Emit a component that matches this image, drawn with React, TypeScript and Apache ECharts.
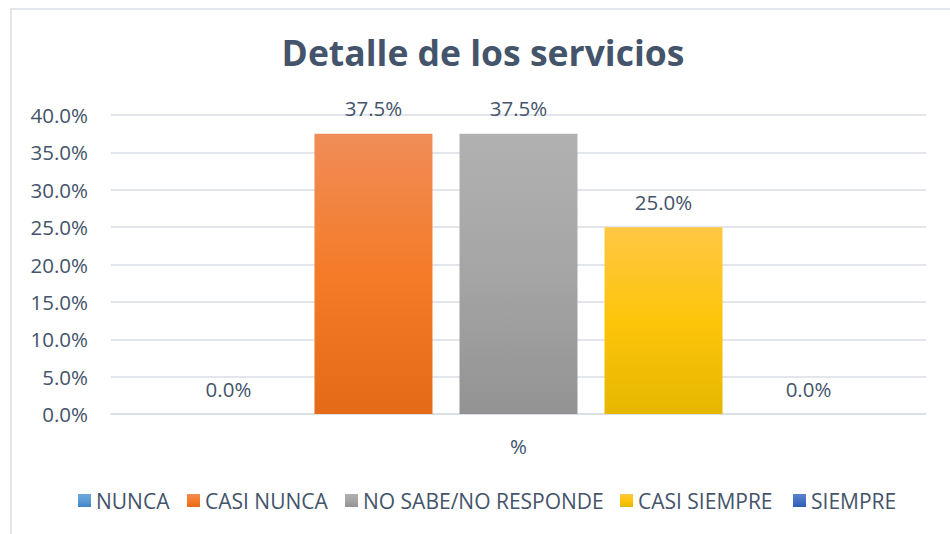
import React, { useEffect, useRef } from "react";
import * as echarts from "echarts";

const categories = ["%"];
const seriesNames = ["NUNCA", "CASI NUNCA", "NO SABE/NO RESPONDE", "CASI SIEMPRE", "SIEMPRE"];
const seriesValues = [0, 37.5, 37.5, 25.0, 0];
const yTicks = { min: 0, max: 40, interval: 5 };
const gradients = [
  ["#6FA8DC", "#5B9BD5", "#3F83C8"],
  ["#F08D58", "#F47B28", "#E46A18"],
  ["#B1B1B1", "#A5A5A5", "#939393"],
  ["#FFC744", "#FDC50A", "#E5B700"],
  ["#5A83CC", "#4472C4", "#2E5DB6"],
];
const legendLefts = [78, 187, 345, 620, 793];

const TEXT = "#44546A";
const GRID = "#D9DEE5";
const FONT = "'Open Sans', 'Noto Sans', sans-serif";

export default function App() {
  const ref = useRef<HTMLDivElement>(null);
  useEffect(() => {
    if (!ref.current) return;
    const chart = echarts.init(ref.current, undefined, { renderer: "svg" });
    const grad = (c: string[]) =>
      new echarts.graphic.LinearGradient(0, 0, 0, 1, [
        { offset: 0, color: c[0] },
        { offset: 0.5, color: c[1] },
        { offset: 1, color: c[2] },
      ]);
    chart.setOption({
      animation: false,
      backgroundColor: "#ffffff",
      title: {
        text: "Detalle de los servicios",
        left: 483,
        top: 34,
        textAlign: "center",
        padding: 0,
        textStyle: { fontFamily: FONT, fontSize: 35.5, fontWeight: "bold", color: TEXT },
      },
      graphic: [
        {
          type: "rect",
          shape: { x: 11, y: 9, width: 960, height: 560 },
          style: { fill: "none", stroke: GRID, lineWidth: 1.5 },
          silent: true,
        },
      ],
      grid: { left: 111, right: 24, top: 115, bottom: 120, containLabel: false },
      legend: seriesNames.map((n, i) => ({
        data: [n],
        left: legendLefts[i],
        top: 490,
        padding: 0,
        itemWidth: 13,
        itemHeight: 13,
        icon: "rect",
        selectedMode: false,
        textStyle: { fontFamily: FONT, fontSize: 21, color: TEXT },
      })),
      xAxis: {
        type: "category",
        data: categories,
        axisLine: { show: true, lineStyle: { color: GRID, width: 1.5 } },
        axisTick: { show: false },
        axisLabel: { margin: 21, fontFamily: FONT, fontSize: 20.5, color: TEXT },
      },
      yAxis: {
        type: "value",
        min: yTicks.min,
        max: yTicks.max,
        interval: yTicks.interval,
        axisLine: { show: false },
        axisTick: { show: false },
        splitLine: { lineStyle: { color: GRID, width: 1.5 } },
        axisLabel: {
          margin: 23,
          fontFamily: FONT,
          fontSize: 20.5,
          color: TEXT,
          formatter: (v: number) => v.toFixed(1) + "%",
        },
      },
      series: seriesNames.map((n, i) => ({
        name: n,
        type: "bar",
        data: [seriesValues[i]],
        barWidth: 118,
        barGap: "22.9%",
        itemStyle: { color: grad(gradients[i]) },
        label: {
          show: true,
          position: "top",
          distance: 15,
          fontFamily: FONT,
          fontSize: 20.5,
          color: TEXT,
          formatter: (p: any) => Number(p.value).toFixed(1) + "%",
        },
      })),
    });
    return () => chart.dispose();
  }, []);
  return (
    <div
      ref={ref}
      style={{ position: "fixed", left: 0, top: 0, width: 950, height: 534, background: "#fff" }}
    />
  );
}
